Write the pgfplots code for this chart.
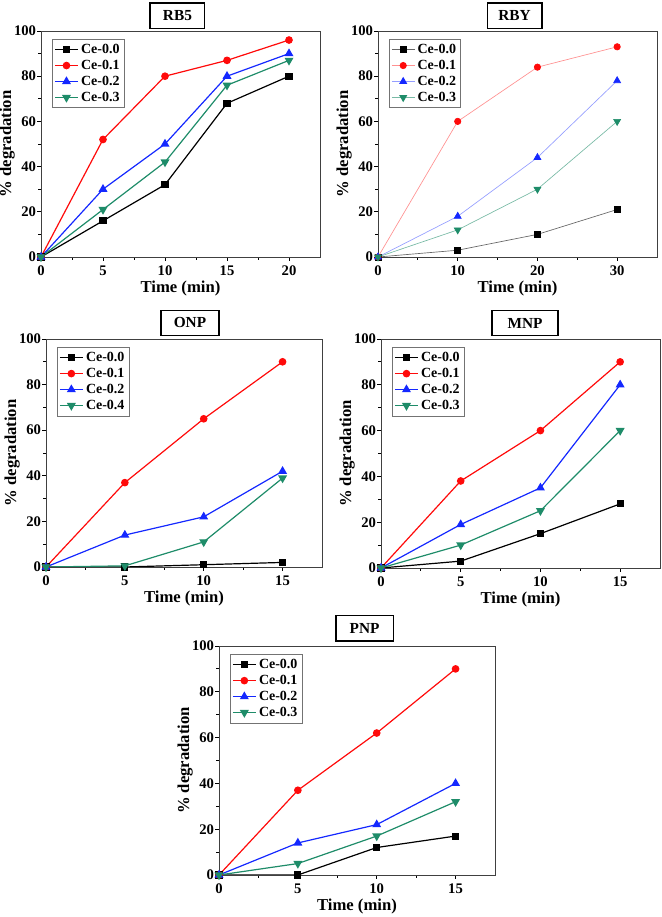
\documentclass[border=0pt]{standalone}
\usepackage{pgfplots}
\pgfplotsset{compat=1.18}
\usepackage{fontspec}
\setmainfont{Liberation Serif}
\definecolor{cgreen}{RGB}{30,140,105}
\definecolor{cblue}{RGB}{20,40,255}
\definecolor{cred}{RGB}{255,10,10}
\pgfplotsset{
  degr/.style={
    scale only axis,
    xmin=0, ymin=0, ymax=100,
    ytick={0,20,40,60,80,100},
    minor tick num=1,
    tick align=outside,
    xtick pos=bottom, ytick pos=left,
    major tick length=3pt, minor tick length=2pt,
    every tick/.style={black, line width=0.6pt},
    axis line style={black!75, line width=0.7pt},
    /pgf/number format/assume math mode=true,
    tick label style={font=\fontsize{11}{12}\selectfont\bfseries},
    yticklabel style={inner sep=0.5pt},
    label style={font=\fontsize{12.5}{14}\selectfont\bfseries},
    xlabel={Time (min)},
    ylabel={\% degradation},
    ylabel style={at={(axis description cs:0,0.5)}, anchor=south, inner sep=0pt, yshift=19.5pt},
    xlabel style={yshift=3pt},
    legend cell align=left,
    legend style={at={(0.04,0.965)}, anchor=north west, draw=black!55, line width=0.5pt,
      font=\fontsize{10.5}{12}\selectfont\bfseries, inner sep=1.5pt, row sep=-0.5pt},
  },
  s0/.style={black, line width=0.9pt, mark=square*, mark size=2.2pt, mark options={solid}},
  s1/.style={cred, line width=0.9pt, mark=*, mark size=2.4pt},
  s2/.style={cblue, line width=0.9pt, mark=triangle*, mark size=3pt},
  s3/.style={cgreen, line width=0.9pt, mark=triangle*, mark size=3pt, mark options={rotate=180}},
}
\newcommand{\ttl}[3]{\node[draw=black, line width=1pt, minimum width=#3, minimum height=19pt, inner sep=0pt, font=\fontsize{11.5}{13}\selectfont\bfseries] at (#1) {#2};}
\begin{document}
\begin{tikzpicture}
\path[use as bounding box] (0,0) rectangle (495.75pt,687.75pt);
% RB5
\begin{axis}[degr, at={(30.75pt,495pt)}, anchor=south west, width=209.25pt, height=169.5pt,
  xmax=22.5, xtick={0,5,10,15,20}]
\addplot[s0] coordinates {(0,0) (5,16) (10,32) (15,68) (20,80)};
\addplot[s1] coordinates {(0,0) (5,52) (10,80) (15,87) (20,96)};
\addplot[s2] coordinates {(0,0) (5,30) (10,50) (15,80) (20,90)};
\addplot[s3] coordinates {(0,0) (5,21) (10,42) (15,76) (20,87)};
\legend{Ce-0.0,Ce-0.1,Ce-0.2,Ce-0.3}
\end{axis}
\ttl{133.1pt,676.1pt}{RB5}{41pt}
% RBY
\begin{axis}[degr, at={(283.5pt,495pt)}, anchor=south west, width=209.25pt, height=169.5pt,
  xmax=35, xtick={0,10,20,30}]
\addplot[s0, draw=black!60, line width=0.5pt, mark options={fill=black,draw=black}] coordinates {(0,0) (10,3) (20,10) (30,21)};
\addplot[s1, draw=cred!45, line width=0.5pt, mark options={fill=cred,draw=cred}] coordinates {(0,0) (10,60) (20,84) (30,93)};
\addplot[s2, draw=cblue!45, line width=0.5pt, mark options={fill=cblue,draw=cblue}] coordinates {(0,0) (10,18) (20,44) (30,78)};
\addplot[s3, draw=cgreen!60, line width=0.5pt, mark options={fill=cgreen,draw=cgreen,rotate=180}] coordinates {(0,0) (10,12) (20,30) (30,60)};
\legend{Ce-0.0,Ce-0.1,Ce-0.2,Ce-0.3}
\end{axis}
\ttl{385.9pt,676.1pt}{RBY}{41pt}
% ONP
\begin{axis}[degr, at={(34.5pt,262.5pt)}, anchor=south west, width=207pt, height=171pt,
  xmax=17.5, xtick={0,5,10,15}]
\addplot[s0] coordinates {(0,0) (5,0) (10,1) (15,2)};
\addplot[s1] coordinates {(0,0) (5,37) (10,65) (15,90)};
\addplot[s2] coordinates {(0,0) (5,14) (10,22) (15,42)};
\addplot[s3] coordinates {(0,0) (5,0.5) (10,11) (15,39)};
\legend{Ce-0.0,Ce-0.1,Ce-0.2,Ce-0.4}
\end{axis}
\ttl{142.5pt,445.5pt}{ONP}{43.5pt}
% MNP
\begin{axis}[degr, at={(285.75pt,261.75pt)}, anchor=south west, width=209.25pt, height=171.75pt,
  xmax=17.5, xtick={0,5,10,15}]
\addplot[s0] coordinates {(0,0) (5,3) (10,15) (15,28)};
\addplot[s1] coordinates {(0,0) (5,38) (10,60) (15,90)};
\addplot[s2] coordinates {(0,0) (5,19) (10,35) (15,80)};
\addplot[s3] coordinates {(0,0) (5,10) (10,25) (15,60)};
\legend{Ce-0.0,Ce-0.1,Ce-0.2,Ce-0.3}
\end{axis}
\ttl{393.75pt,445.5pt}{MNP}{49.5pt}
% PNP
\begin{axis}[degr, at={(164.25pt,31.5pt)}, anchor=south west, width=207pt, height=171.75pt,
  xmax=17.5, xtick={0,5,10,15}]
\addplot[s0] coordinates {(0,0) (5,0) (10,12) (15,17)};
\addplot[s1] coordinates {(0,0) (5,37) (10,62) (15,90)};
\addplot[s2] coordinates {(0,0) (5,14) (10,22) (15,40)};
\addplot[s3] coordinates {(0,0) (5,5) (10,17) (15,32)};
\legend{Ce-0.0,Ce-0.1,Ce-0.2,Ce-0.3}
\end{axis}
\ttl{273.4pt,216.4pt}{PNP}{43pt}
\end{tikzpicture}
\end{document}
